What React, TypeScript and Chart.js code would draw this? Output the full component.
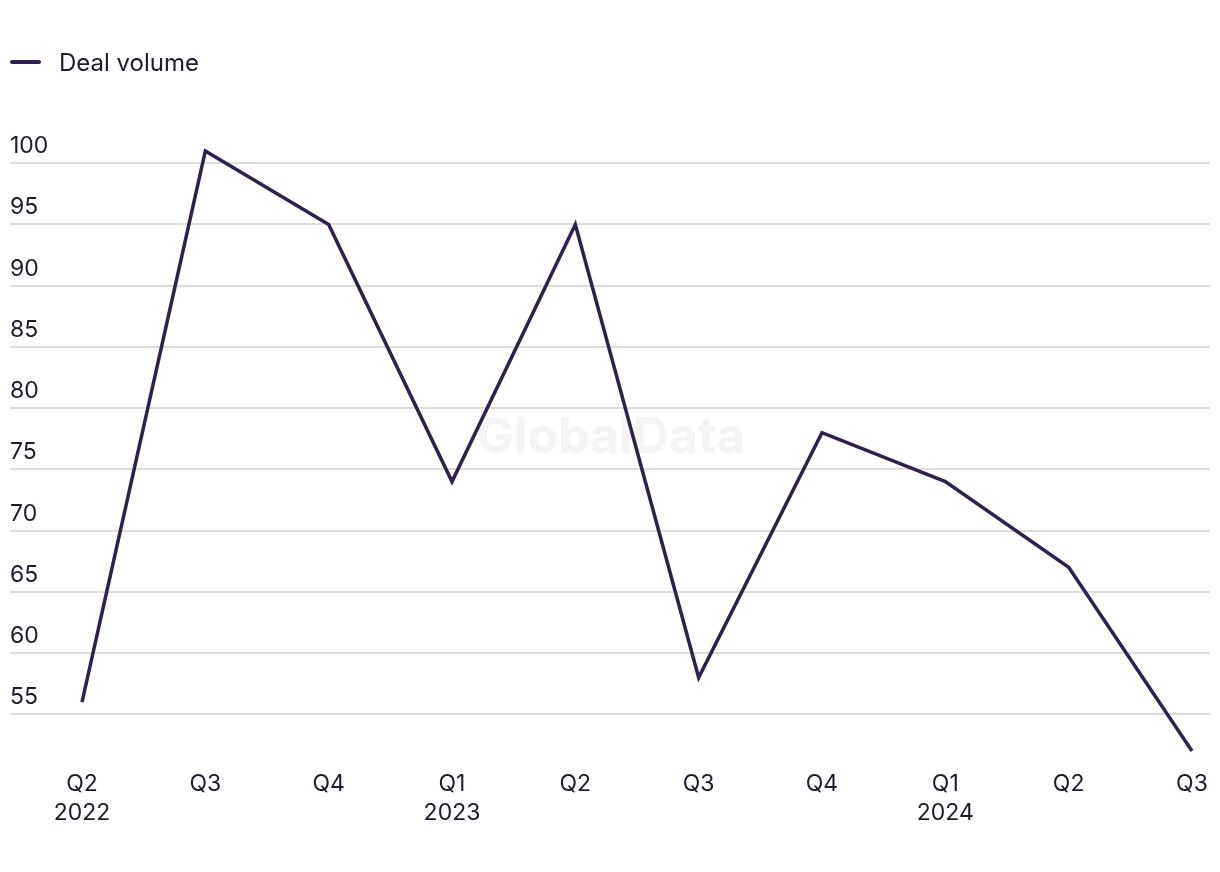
import React, { useEffect, useRef } from "react";
import { Chart, registerables } from "chart.js";

Chart.register(...registerables);

const quarterLabels: string[][] = [
  ["Q2", "2022"],
  ["Q3"],
  ["Q4"],
  ["Q1", "2023"],
  ["Q2"],
  ["Q3"],
  ["Q4"],
  ["Q1", "2024"],
  ["Q2"],
  ["Q3"],
];
const dealVolume: number[] = [56, 101, 95, 74, 95, 58, 78, 74, 67, 52];
const yTicks: number[] = [55, 60, 65, 70, 75, 80, 85, 90, 95, 100];

const LINE_COLOR = "#30204f";
const TEXT_COLOR = "#1c1b2b";
const FONT = "Inter, 'Noto Sans', sans-serif";

const watermark = {
  id: "watermark",
  beforeDraw(chart: any) {
    const { ctx } = chart;
    ctx.save();
    ctx.font = `bold 50px ${FONT}`;
    ctx.fillStyle = "#f4f4f4";
    ctx.textAlign = "center";
    ctx.textBaseline = "middle";
    ctx.fillText("GlobalData", 611, 438);
    ctx.restore();
  },
};

export default function App() {
  const ref = useRef<HTMLCanvasElement>(null);

  useEffect(() => {
    if (!ref.current) return;
    const chart = new Chart(ref.current, {
      type: "line",
      data: {
        datasets: [
          {
            label: "Deal volume",
            data: dealVolume.map((v, i) => ({ x: i, y: v })),
            borderColor: LINE_COLOR,
            backgroundColor: LINE_COLOR,
            borderWidth: 3.5,
            borderJoinStyle: "miter",
            pointRadius: 0,
            tension: 0,
            clip: false as any,
          },
        ],
      },
      options: {
        responsive: false,
        animation: false,
        layout: { padding: { left: 10, right: 10, top: 151, bottom: 0 } },
        plugins: {
          legend: { display: false },
          tooltip: { enabled: false },
        },
        scales: {
          x: {
            type: "linear",
            min: -0.5838,
            max: 9.146,
            grid: { display: false },
            border: { display: false },
            afterBuildTicks: (scale: any) => {
              scale.ticks = quarterLabels.map((_, i) => ({ value: i }));
            },
            afterFit: (scale: any) => {
              scale.height = 121;
              scale.paddingLeft = 0;
              scale.paddingRight = 0;
            },
            ticks: {
              autoSkip: false,
              maxRotation: 0,
              padding: 11,
              color: TEXT_COLOR,
              font: { family: FONT, size: 23, lineHeight: 1.26 },
              callback: (value: any) => quarterLabels[Math.round(value)] ?? "",
            },
          },
          y: {
            min: 52,
            max: 101,
            position: "left",
            border: { display: false },
            grid: { color: "#dcdcdc", lineWidth: 2, drawTicks: false },
            afterBuildTicks: (scale: any) => {
              scale.ticks = yTicks.map((v) => ({ value: v }));
            },
            afterFit: (scale: any) => {
              scale.width = 0;
              scale.paddingTop = 0;
              scale.paddingBottom = 0;
            },
            ticks: {
              mirror: true,
              padding: 0,
              labelOffset: -17,
              color: TEXT_COLOR,
              font: { family: FONT, size: 23 },
            },
          },
        },
      },
      plugins: [watermark],
    });
    return () => chart.destroy();
  }, []);

  return (
    <div style={{ position: "absolute", left: 0, top: 0, width: 1220, height: 872, background: "#fff" }}>
      <div
        style={{
          position: "absolute",
          left: 10,
          top: 44,
          height: 36,
          display: "flex",
          alignItems: "center",
          fontFamily: FONT,
          fontSize: 24,
          color: TEXT_COLOR,
        }}
      >
        <span
          style={{
            display: "inline-block",
            width: 31,
            height: 4,
            borderRadius: 2,
            background: LINE_COLOR,
            marginRight: 18,
          }}
        />
        <span>Deal volume</span>
      </div>
      <canvas ref={ref} width={1220} height={872} style={{ display: "block" }} />
    </div>
  );
}
